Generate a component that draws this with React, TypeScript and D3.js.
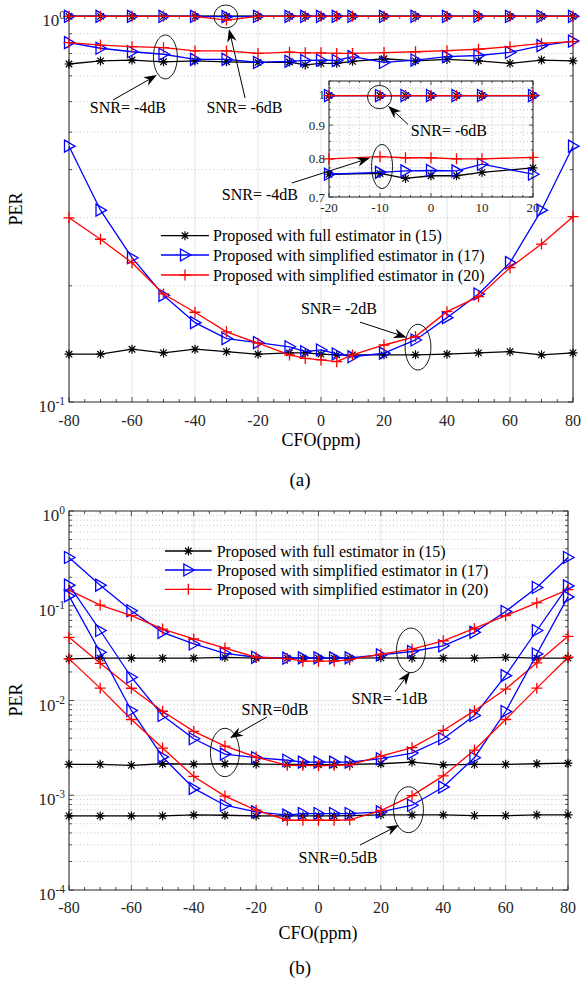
import React from "react";
import * as d3 from "d3";

const FONT = "'Liberation Serif', 'Times New Roman', serif";

// CFO points (ppm)
const cfo = [-80, -70, -60, -50, -40, -30, -20, -10, -5, 0, 5, 10, 20, 30, 40, 50, 60, 70, 80];
const xTicks = [-80, -60, -40, -20, 0, 20, 40, 60, 80];
const insetXTicks = [-20, -10, 0, 10, 20];
const insetYTicks = [0.7, 0.8, 0.9, 1];
const insetYLabels = ["0.7", "0.8", "0.9", "1"];
const topExps = [0, -1];
const botExps = [0, -1, -2, -3, -4];
const legendLabels = [
  "Proposed with full estimator in (15)",
  "Proposed with simplified estimator in (17)",
  "Proposed with simplified estimator in (20)",
];

// (a) SNR = -6 dB
const fullM6 = [0.998, 0.998, 0.998, 0.998, 0.998, 0.998, 0.998, 0.998, 0.998, 0.998, 0.998, 0.998, 0.998, 0.998, 0.998, 0.998, 0.998, 0.998, 0.998];
const s17M6 = [0.998, 0.998, 0.998, 0.998, 0.998, 0.996, 0.998, 0.998, 0.998, 0.998, 0.998, 0.998, 0.998, 0.998, 0.998, 0.998, 0.998, 0.998, 0.998];
const s20M6 = [0.998, 0.998, 0.998, 0.998, 0.998, 0.976, 0.998, 0.998, 0.998, 0.998, 0.998, 0.998, 0.998, 0.998, 0.998, 0.998, 0.998, 0.998, 0.998];
// (a) SNR = -4 dB
const fullM4 = [0.751, 0.765, 0.769, 0.761, 0.765, 0.761, 0.758, 0.76, 0.747, 0.754, 0.754, 0.763, 0.775, 0.765, 0.772, 0.765, 0.754, 0.769, 0.765];
const s17M4 = [0.853, 0.825, 0.808, 0.796, 0.772, 0.772, 0.758, 0.763, 0.767, 0.768, 0.767, 0.785, 0.758, 0.769, 0.785, 0.79, 0.805, 0.838, 0.861];
const s20M4 = [0.853, 0.841, 0.833, 0.828, 0.812, 0.812, 0.8, 0.806, 0.803, 0.803, 0.8, 0.8, 0.804, 0.808, 0.813, 0.82, 0.833, 0.849, 0.858];
// (a) SNR = -2 dB
const fullM2 = [0.133, 0.133, 0.137, 0.134, 0.137, 0.135, 0.133, 0.134, 0.134, 0.133, 0.1325, 0.1325, 0.1325, 0.1325, 0.133, 0.134, 0.135, 0.1325, 0.134];
const s17M2 = [0.46, 0.314, 0.2365, 0.189, 0.1605, 0.146, 0.1425, 0.139, 0.135, 0.1364, 0.1332, 0.131, 0.1338, 0.1448, 0.1654, 0.1905, 0.2296, 0.314, 0.46];
const s20M2 = [0.3, 0.264, 0.2296, 0.1905, 0.1708, 0.152, 0.142, 0.1324, 0.1297, 0.1285, 0.1272, 0.1324, 0.1405, 0.1477, 0.1714, 0.1874, 0.2229, 0.2566, 0.302];

// (b) SNR = -1 dB
const fullM1 = [0.0275, 0.028, 0.028, 0.028, 0.028, 0.0285, 0.028, 0.028, 0.028, 0.028, 0.028, 0.028, 0.0282, 0.028, 0.028, 0.028, 0.0285, 0.028, 0.028];
const s17M1 = [0.323, 0.165, 0.0886, 0.0524, 0.0395, 0.0315, 0.0286, 0.028, 0.0282, 0.0282, 0.0282, 0.0282, 0.0303, 0.0329, 0.0378, 0.0524, 0.087, 0.156, 0.323];
const s20M1 = [0.146, 0.1016, 0.0785, 0.0568, 0.0446, 0.0358, 0.0286, 0.0277, 0.026, 0.026, 0.026, 0.027, 0.0309, 0.0348, 0.0427, 0.0576, 0.0785, 0.107, 0.148];
// (b) SNR = 0 dB
const full0 = [0.00212, 0.00212, 0.00207, 0.00215, 0.00213, 0.00215, 0.00213, 0.00212, 0.00212, 0.0021, 0.0021, 0.00212, 0.00215, 0.00224, 0.00209, 0.00212, 0.00212, 0.00215, 0.00218];
const s170 = [0.165, 0.0548, 0.0176, 0.00695, 0.00395, 0.00272, 0.00249, 0.00234, 0.00224, 0.00224, 0.00224, 0.00224, 0.00243, 0.00279, 0.00395, 0.00695, 0.0183, 0.0548, 0.162];
const s200 = [0.0464, 0.0247, 0.01346, 0.0077, 0.00472, 0.0033, 0.00253, 0.00207, 0.00207, 0.00205, 0.00207, 0.00209, 0.00259, 0.00318, 0.00483, 0.00781, 0.0132, 0.025, 0.0476];
// (b) SNR = 0.5 dB
const full05 = [0.000605, 0.000605, 0.000605, 0.000605, 0.00062, 0.000615, 0.000605, 0.000605, 0.000605, 0.000605, 0.000605, 0.00061, 0.00062, 0.00062, 0.00062, 0.00061, 0.00061, 0.00062, 0.00062];
const s1705 = [0.127, 0.0323, 0.00785, 0.00254, 0.00118, 0.000785, 0.000667, 0.000617, 0.000641, 0.000641, 0.000641, 0.000641, 0.000667, 0.000785, 0.00122, 0.00249, 0.00765, 0.031, 0.124];
const s2005 = [0.0275, 0.0135, 0.0063, 0.00315, 0.00158, 0.00098, 0.000695, 0.000545, 0.000545, 0.000545, 0.000545, 0.00055, 0.00069, 0.00099, 0.0016, 0.003, 0.0063, 0.0135, 0.0286];

type Kind = "full" | "s17" | "s20";
const COLORS: Record<Kind, string> = { full: "#000000", s17: "#0000ff", s20: "#ff0000" };

const seriesA: [Kind, number[]][] = [
  ["full", fullM6], ["s17", s17M6], ["s20", s20M6],
  ["full", fullM4], ["s17", s17M4], ["s20", s20M4],
  ["full", fullM2], ["s17", s17M2], ["s20", s20M2],
];
// the zoomed inset only shows the -6 dB and -4 dB curves
const seriesInset = seriesA.slice(0, 6);
const seriesB: [Kind, number[]][] = [
  ["full", fullM1], ["s17", s17M1], ["s20", s20M1],
  ["full", full0], ["s17", s170], ["s20", s200],
  ["full", full05], ["s17", s1705], ["s20", s2005],
];

const topX = d3.scaleLinear().domain([-80, 80]).range([69, 573]);
const topY = d3.scaleLog().domain([0.1, 1]).range([402, 16]);
const botX = d3.scaleLinear().domain([-80, 80]).range([69, 568]);
const botY = d3.scaleLog().domain([1e-4, 1]).range([890, 511]);
const inX = d3.scaleLinear().domain([-20, 20]).range([329, 533]);
const inY = d3.scaleLog().domain([0.7, 1.05]).range([197, 81]);

function Mark({ kind, x, y }: { kind: Kind; x: number; y: number }) {
  const c = COLORS[kind];
  if (kind === "full") {
    const r = 4.5, d = r * 0.72;
    return (
      <path
        d={`M${x - r},${y}h${2 * r}M${x},${y - r}v${2 * r}M${x - d},${y - d}l${2 * d},${2 * d}M${x - d},${y + d}l${2 * d},${-2 * d}`}
        stroke={c} strokeWidth={1.2} fill="none"
      />
    );
  }
  if (kind === "s17") {
    return <path d={`M${x - 4.5},${y - 6}L${x + 6},${y}L${x - 4.5},${y + 6}Z`} stroke={c} strokeWidth={1.3} fill="none" />;
  }
  const r = 5.5;
  return <path d={`M${x - r},${y}h${2 * r}M${x},${y - r}v${2 * r}`} stroke={c} strokeWidth={1.3} fill="none" />;
}

function Curves({ xs, ys, list, idx }: any) {
  return (
    <g>
      {list.map(([kind, vals]: [Kind, number[]], k: number) => {
        const pts = idx.map((i: number) => [xs(cfo[i]), ys(vals[i])] as [number, number]);
        return (
          <g key={k}>
            <path d={d3.line()(pts) || ""} fill="none" stroke={COLORS[kind]} strokeWidth={1.3} />
            {pts.map((p: [number, number], j: number) => <Mark key={j} kind={kind} x={p[0]} y={p[1]} />)}
          </g>
        );
      })}
    </g>
  );
}

function Frame({ xs, ys, xMajor, xMinor, yMajor, yMinor, yGridMajor, xGridMinor, tick = 5, mtick = 3 }: any) {
  const [x0, x1] = xs.range();
  const [yb, yt] = ys.range();
  const hl = (v: number, k: string, st: any) => <line key={k} x1={x0} x2={x1} y1={ys(v)} y2={ys(v)} {...st} />;
  const vl = (v: number, k: string, st: any) => <line key={k} x1={xs(v)} x2={xs(v)} y1={yt} y2={yb} {...st} />;
  const dotted = { stroke: "#a8a8a8", strokeWidth: 0.7, strokeDasharray: "1 2.6" };
  const solid = { stroke: "#dedede", strokeWidth: 0.8 };
  const tk = { stroke: "#262626", strokeWidth: 0.8 };
  return (
    <g>
      {yMinor.map((v: number, i: number) => hl(v, "ym" + i, dotted))}
      {xGridMinor && xMinor.map((v: number, i: number) => vl(v, "xm" + i, dotted))}
      {yGridMajor.map((v: number, i: number) => hl(v, "yg" + i, solid))}
      {xMajor.map((v: number, i: number) => vl(v, "xg" + i, solid))}
      {xMajor.map((v: number, i: number) => (
        <g key={"xt" + i}>
          <line x1={xs(v)} x2={xs(v)} y1={yb} y2={yb - tick} {...tk} />
          <line x1={xs(v)} x2={xs(v)} y1={yt} y2={yt + tick} {...tk} />
        </g>
      ))}
      {xMinor.map((v: number, i: number) => (
        <g key={"xn" + i}>
          <line x1={xs(v)} x2={xs(v)} y1={yb} y2={yb - mtick} {...tk} />
          <line x1={xs(v)} x2={xs(v)} y1={yt} y2={yt + mtick} {...tk} />
        </g>
      ))}
      {yMajor.map((v: number, i: number) => (
        <g key={"yt" + i}>
          <line x1={x0} x2={x0 + tick} y1={ys(v)} y2={ys(v)} {...tk} />
          <line x1={x1} x2={x1 - tick} y1={ys(v)} y2={ys(v)} {...tk} />
        </g>
      ))}
      {yMinor.map((v: number, i: number) => (
        <g key={"yn" + i}>
          <line x1={x0} x2={x0 + mtick} y1={ys(v)} y2={ys(v)} {...tk} />
          <line x1={x1} x2={x1 - mtick} y1={ys(v)} y2={ys(v)} {...tk} />
        </g>
      ))}
      <rect x={x0} y={yt} width={x1 - x0} height={yb - yt} fill="none" stroke="#262626" strokeWidth={1} />
    </g>
  );
}

function Arrow({ x1, y1, x2, y2 }: { x1: number; y1: number; x2: number; y2: number }) {
  const a = Math.atan2(y2 - y1, x2 - x1);
  const L = 13, w = 4.8, n = 9;
  const ux = Math.cos(a), uy = Math.sin(a);
  const px = -uy, py = ux;
  const bx = x2 - ux * L, by = y2 - uy * L;
  const nx = x2 - ux * n, ny = y2 - uy * n;
  return (
    <g>
      <line x1={x1} y1={y1} x2={nx} y2={ny} stroke="#000" strokeWidth={1} />
      <path d={`M${x2},${y2}L${bx + px * w},${by + py * w}L${nx},${ny}L${bx - px * w},${by - py * w}Z`} fill="#000" />
    </g>
  );
}

function Note({ xs, ys, n }: any) {
  return (
    <g>
      <ellipse
        cx={xs(n.ex)} cy={(ys(n.eTop) + ys(n.eBot)) / 2}
        rx={xs(n.ex + n.edx) - xs(n.ex)} ry={(ys(n.eBot) - ys(n.eTop)) / 2}
        fill="none" stroke="#000" strokeWidth={0.9}
      />
      <Arrow x1={xs(n.ax1)} y1={ys(n.ay1)} x2={xs(n.ax2)} y2={ys(n.ay2)} />
    </g>
  );
}

function NoteText({ xs, ys, t, x, y, anchor = "middle", size = 16 }: any) {
  return <text x={xs(x)} y={ys(y)} textAnchor={anchor} fontSize={size} fontFamily={FONT}>{t}</text>;
}

function Legend({ x0, x1, tx, rows }: { x0: number; x1: number; tx: number; rows: number[] }) {
  const kinds: Kind[] = ["full", "s17", "s20"];
  return (
    <g>
      {kinds.map((k, i) => (
        <g key={k}>
          <line x1={x0} x2={x1} y1={rows[i]} y2={rows[i]} stroke={COLORS[k]} strokeWidth={1.3} />
          <Mark kind={k} x={(x0 + x1) / 2} y={rows[i]} />
          <text x={tx} y={rows[i] + 5.5} fontSize={16} fontFamily={FONT}>{legendLabels[i]}</text>
        </g>
      ))}
    </g>
  );
}

function PowLabel({ x, y, e }: { x: number; y: number; e: number }) {
  return (
    <text x={x} y={y} textAnchor="end" fontSize={17} fontFamily={FONT} fill="#262626">
      10<tspan dy={-7} fontSize={11.5}>{String(e)}</tspan>
    </text>
  );
}

const allIdx = cfo.map((_, i) => i);
const insetIdx = allIdx.filter((i) => cfo[i] >= -20 && cfo[i] <= 20);
const xMinorMain = d3.range(-80, 81, 5).filter((v) => v % 20 !== 0);
const minorsFor = (exps: number[]) =>
  exps.slice(1).flatMap((e) => d3.range(2, 10).map((k) => k * Math.pow(10, e)));

export default function App() {
  const topMinor = minorsFor(topExps);
  const botMinor = minorsFor(botExps);
  const inXMinor = d3.range(-18, 19, 2).filter((v) => v % 10 !== 0);
  const inYMinor = d3.range(0.725, 1.05, 0.025).filter((v) => Math.abs(v * 10 - Math.round(v * 10)) > 0.01);

  return (
    <svg width={582} height={984} style={{ position: "absolute", left: 0, top: 0, background: "#fff" }}>
      <rect width={582} height={984} fill="#fff" />
      {/* ---------- (a) ---------- */}
      <Frame xs={topX} ys={topY} xMajor={xTicks} xMinor={xMinorMain}
        yMajor={topExps.map((e) => Math.pow(10, e))} yMinor={topMinor} yGridMajor={[]} xGridMinor={false} />
      <Curves xs={topX} ys={topY} list={seriesA} idx={allIdx} />
      {xTicks.map((v) => (
        <text key={v} x={topX(v)} y={426} textAnchor="middle" fontSize={16} fontFamily={FONT} fill="#262626">{v}</text>
      ))}
      {topExps.map((e) => <PowLabel key={e} x={65} y={topY(Math.pow(10, e)) + 10} e={e} />)}
      <text x={321} y={446} textAnchor="middle" fontSize={18} fontFamily={FONT}>CFO(ppm)</text>
      <text transform="translate(22,209) rotate(-90)" textAnchor="middle" fontSize={18} fontFamily={FONT}>PER</text>
      <text x={300} y={486} textAnchor="middle" fontSize={19} fontFamily={FONT}>(a)</text>
      <Legend x0={161} x1={209} tx={213} rows={[235.7, 255, 275]} />

      <NoteText xs={topX} ys={topY} t="SNR= -4dB" x={-61.3} y={0.561} />
      <Note xs={topX} ys={topY} n={{ ex: -49.4, edx: 3.8, eTop: 0.893, eBot: 0.687, ax1: -66, ay1: 0.606, ax2: -52.1, ay2: 0.703 }} />
      <NoteText xs={topX} ys={topY} t="SNR= -6dB" x={-24.3} y={0.561} />
      <Note xs={topX} ys={topY} n={{ ex: -30.2, edx: 3.8, eTop: 1.068, eBot: 0.931, ax1: -24.1, ay1: 0.613, ax2: -29.2, ay2: 0.925 }} />
      <NoteText xs={topX} ys={topY} t="SNR= -2dB" x={5.7} y={0.169} />
      <Note xs={topX} ys={topY} n={{ ex: 30.8, edx: 4.1, eTop: 0.159, eBot: 0.121, ax1: 12.4, ay1: 0.161, ax2: 27.2, ay2: 0.147 }} />

      {/* inset */}
      <rect x={329} y={81} width={204} height={116} fill="#fff" />
      <Frame xs={inX} ys={inY} xMajor={insetXTicks} xMinor={inXMinor}
        yMajor={insetYTicks} yMinor={inYMinor} yGridMajor={insetYTicks} xGridMinor={true} tick={4} mtick={2} />
      <Curves xs={inX} ys={inY} list={seriesInset} idx={insetIdx} />
      {insetXTicks.map((v) => (
        <text key={v} x={inX(v)} y={212} textAnchor="middle" fontSize={13} fontFamily={FONT} fill="#262626">{v}</text>
      ))}
      {insetYTicks.map((v, i) => (
        <text key={v} x={325} y={inY(v) + 4.5} textAnchor="end" fontSize={13} fontFamily={FONT} fill="#262626">{insetYLabels[i]}</text>
      ))}
      <NoteText xs={inX} ys={inY} t="SNR= -6dB" x={3.5} y={0.865} />
      <Note xs={inX} ys={inY} n={{ ex: -10.1, edx: 2.35, eTop: 1.034, eBot: 0.953, ax1: -4.5, ay1: 0.902, ax2: -8.4, ay2: 0.962 }} />
      <Note xs={inX} ys={inY} n={{ ex: -9.6, edx: 2.06, eTop: 0.841, eBot: 0.721, ax1: -27.3, ay1: 0.735, ax2: -12.0, ay2: 0.802 }} />
      <NoteText xs={topX} ys={topY} t="SNR= -4dB" x={-19.4} y={0.334} />

      {/* ---------- (b) ---------- */}
      <Frame xs={botX} ys={botY} xMajor={xTicks} xMinor={xMinorMain}
        yMajor={botExps.map((e) => Math.pow(10, e))} yMinor={botMinor}
        yGridMajor={botExps.slice(1, -1).map((e) => Math.pow(10, e))} xGridMinor={false} />
      <Curves xs={botX} ys={botY} list={seriesB} idx={allIdx} />
      {xTicks.map((v) => (
        <text key={v} x={botX(v)} y={913} textAnchor="middle" fontSize={16} fontFamily={FONT} fill="#262626">{v}</text>
      ))}
      {botExps.map((e) => <PowLabel key={e} x={65} y={botY(Math.pow(10, e)) + 10} e={e} />)}
      <text x={318} y={939} textAnchor="middle" fontSize={18} fontFamily={FONT}>CFO(ppm)</text>
      <text transform="translate(22,700) rotate(-90)" textAnchor="middle" fontSize={18} fontFamily={FONT}>PER</text>
      <text x={300} y={974} textAnchor="middle" fontSize={19} fontFamily={FONT}>(b)</text>
      <Legend x0={165} x1={211.7} tx={216.7} rows={[551, 570, 589.3]} />

      <NoteText xs={botX} ys={botY} t="SNR= -1dB" x={22.8} y={0.00919} />
      <Note xs={botX} ys={botY} n={{ ex: 29.65, edx: 4.65, eTop: 0.0582, eBot: 0.01965, ax1: 24.5, ay1: 0.0123, ax2: 29.3, ay2: 0.02 }} />
      <NoteText xs={botX} ys={botY} t="SNR=0dB" x={-13.95} y={0.00703} />
      <Note xs={botX} ys={botY} n={{ ex: -30, edx: 4.65, eTop: 0.00509, eBot: 0.00157, ax1: -16.5, ay1: 0.0067, ax2: -28.4, ay2: 0.00402 }} />
      <NoteText xs={botX} ys={botY} t="SNR=0.5dB" x={6.25} y={0.000193} />
      <Note xs={botX} ys={botY} n={{ ex: 28.85, edx: 4.8, eTop: 0.00123, eBot: 0.000403, ax1: 13.3, ay1: 0.000298, ax2: 25.8, ay2: 0.000485 }} />
    </svg>
  );
}
